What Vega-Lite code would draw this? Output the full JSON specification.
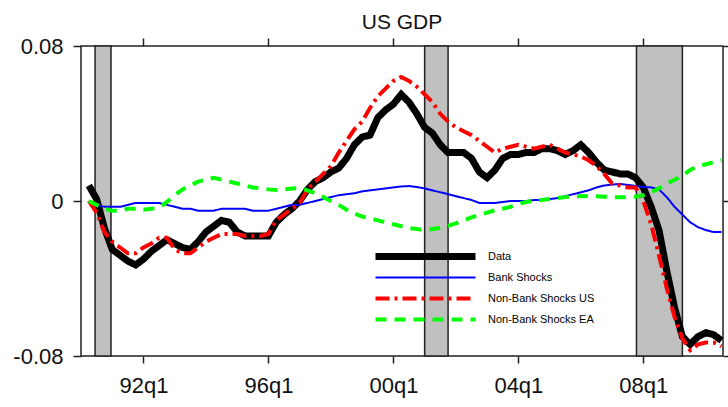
{
  "$schema": "https://vega.github.io/schema/vega-lite/v6.json",
  "width": 642,
  "height": 310,
  "autosize": "none",
  "padding": {"left": 81, "top": 46, "right": 5, "bottom": 51},
  "title": {"text": "US GDP", "font": "Liberation Sans", "fontSize": 21, "fontWeight": "normal", "color": "#111", "offset": 2},
  "config": {
    "view": {"stroke": "#222", "strokeWidth": 1.5},
    "axis": {"grid": false, "domain": false, "tickColor": "#222", "tickWidth": 1.5, "labelFont": "Liberation Sans", "labelFontSize": 22, "labelColor": "#111"}
  },
  "datasets": {
    "bands": [
      {"start": 1990.45, "end": 1990.96},
      {"start": 2001.0, "end": 2001.75},
      {"start": 2007.78, "end": 2009.25}
    ],
    "series": [
      {"t": 1990.25, "Data": 0.008, "Bank Shocks": 0.000, "Non-Bank Shocks US": 0.000, "Non-Bank Shocks EA": 0.000},
      {"t": 1990.5, "Data": 0.001, "Bank Shocks": -0.002, "Non-Bank Shocks US": -0.006, "Non-Bank Shocks EA": -0.002},
      {"t": 1990.75, "Data": -0.014, "Bank Shocks": -0.003, "Non-Bank Shocks US": -0.016, "Non-Bank Shocks EA": -0.004},
      {"t": 1991.0, "Data": -0.025, "Bank Shocks": -0.003, "Non-Bank Shocks US": -0.021, "Non-Bank Shocks EA": -0.005},
      {"t": 1991.25, "Data": -0.028, "Bank Shocks": -0.003, "Non-Bank Shocks US": -0.024, "Non-Bank Shocks EA": -0.005},
      {"t": 1991.5, "Data": -0.031, "Bank Shocks": -0.002, "Non-Bank Shocks US": -0.027, "Non-Bank Shocks EA": -0.004},
      {"t": 1991.75, "Data": -0.033, "Bank Shocks": -0.001, "Non-Bank Shocks US": -0.027, "Non-Bank Shocks EA": -0.004},
      {"t": 1992.0, "Data": -0.030, "Bank Shocks": -0.001, "Non-Bank Shocks US": -0.024, "Non-Bank Shocks EA": -0.0045},
      {"t": 1992.25, "Data": -0.026, "Bank Shocks": -0.001, "Non-Bank Shocks US": -0.022, "Non-Bank Shocks EA": -0.004},
      {"t": 1992.5, "Data": -0.023, "Bank Shocks": -0.001, "Non-Bank Shocks US": -0.019, "Non-Bank Shocks EA": -0.0035},
      {"t": 1992.75, "Data": -0.020, "Bank Shocks": -0.002, "Non-Bank Shocks US": -0.019, "Non-Bank Shocks EA": -0.0005},
      {"t": 1993.0, "Data": -0.022, "Bank Shocks": -0.003, "Non-Bank Shocks US": -0.025, "Non-Bank Shocks EA": 0.003},
      {"t": 1993.25, "Data": -0.024, "Bank Shocks": -0.004, "Non-Bank Shocks US": -0.027, "Non-Bank Shocks EA": 0.006},
      {"t": 1993.5, "Data": -0.025, "Bank Shocks": -0.004, "Non-Bank Shocks US": -0.027, "Non-Bank Shocks EA": 0.008},
      {"t": 1993.75, "Data": -0.021, "Bank Shocks": -0.005, "Non-Bank Shocks US": -0.024, "Non-Bank Shocks EA": 0.010},
      {"t": 1994.0, "Data": -0.016, "Bank Shocks": -0.005, "Non-Bank Shocks US": -0.021, "Non-Bank Shocks EA": 0.011},
      {"t": 1994.25, "Data": -0.013, "Bank Shocks": -0.005, "Non-Bank Shocks US": -0.019, "Non-Bank Shocks EA": 0.012},
      {"t": 1994.5, "Data": -0.010, "Bank Shocks": -0.004, "Non-Bank Shocks US": -0.017, "Non-Bank Shocks EA": 0.011},
      {"t": 1994.75, "Data": -0.011, "Bank Shocks": -0.004, "Non-Bank Shocks US": -0.017, "Non-Bank Shocks EA": 0.010},
      {"t": 1995.0, "Data": -0.016, "Bank Shocks": -0.004, "Non-Bank Shocks US": -0.017, "Non-Bank Shocks EA": 0.009},
      {"t": 1995.25, "Data": -0.018, "Bank Shocks": -0.004, "Non-Bank Shocks US": -0.018, "Non-Bank Shocks EA": 0.008},
      {"t": 1995.5, "Data": -0.018, "Bank Shocks": -0.005, "Non-Bank Shocks US": -0.018, "Non-Bank Shocks EA": 0.007},
      {"t": 1995.75, "Data": -0.018, "Bank Shocks": -0.005, "Non-Bank Shocks US": -0.018, "Non-Bank Shocks EA": 0.0065},
      {"t": 1996.0, "Data": -0.018, "Bank Shocks": -0.005, "Non-Bank Shocks US": -0.017, "Non-Bank Shocks EA": 0.006},
      {"t": 1996.25, "Data": -0.011, "Bank Shocks": -0.004, "Non-Bank Shocks US": -0.010, "Non-Bank Shocks EA": 0.0057},
      {"t": 1996.5, "Data": -0.007, "Bank Shocks": -0.003, "Non-Bank Shocks US": -0.007, "Non-Bank Shocks EA": 0.006},
      {"t": 1996.75, "Data": -0.004, "Bank Shocks": -0.002, "Non-Bank Shocks US": -0.004, "Non-Bank Shocks EA": 0.0065},
      {"t": 1997.0, "Data": 0.000, "Bank Shocks": -0.002, "Non-Bank Shocks US": -0.001, "Non-Bank Shocks EA": 0.0067},
      {"t": 1997.25, "Data": 0.006, "Bank Shocks": -0.001, "Non-Bank Shocks US": 0.006, "Non-Bank Shocks EA": 0.0055},
      {"t": 1997.5, "Data": 0.010, "Bank Shocks": 0.000, "Non-Bank Shocks US": 0.010, "Non-Bank Shocks EA": 0.004},
      {"t": 1997.75, "Data": 0.012, "Bank Shocks": 0.001, "Non-Bank Shocks US": 0.014, "Non-Bank Shocks EA": 0.002},
      {"t": 1998.0, "Data": 0.015, "Bank Shocks": 0.002, "Non-Bank Shocks US": 0.018, "Non-Bank Shocks EA": 0.000},
      {"t": 1998.25, "Data": 0.017, "Bank Shocks": 0.003, "Non-Bank Shocks US": 0.025, "Non-Bank Shocks EA": -0.002},
      {"t": 1998.5, "Data": 0.022, "Bank Shocks": 0.0035, "Non-Bank Shocks US": 0.031, "Non-Bank Shocks EA": -0.0045},
      {"t": 1998.75, "Data": 0.029, "Bank Shocks": 0.004, "Non-Bank Shocks US": 0.037, "Non-Bank Shocks EA": -0.0065},
      {"t": 1999.0, "Data": 0.033, "Bank Shocks": 0.005, "Non-Bank Shocks US": 0.041, "Non-Bank Shocks EA": -0.008},
      {"t": 1999.25, "Data": 0.034, "Bank Shocks": 0.0055, "Non-Bank Shocks US": 0.048, "Non-Bank Shocks EA": -0.009},
      {"t": 1999.5, "Data": 0.043, "Bank Shocks": 0.006, "Non-Bank Shocks US": 0.054, "Non-Bank Shocks EA": -0.010},
      {"t": 1999.75, "Data": 0.047, "Bank Shocks": 0.0065, "Non-Bank Shocks US": 0.058, "Non-Bank Shocks EA": -0.011},
      {"t": 2000.0, "Data": 0.050, "Bank Shocks": 0.007, "Non-Bank Shocks US": 0.062, "Non-Bank Shocks EA": -0.012},
      {"t": 2000.25, "Data": 0.055, "Bank Shocks": 0.0075, "Non-Bank Shocks US": 0.064, "Non-Bank Shocks EA": -0.013},
      {"t": 2000.5, "Data": 0.051, "Bank Shocks": 0.0077, "Non-Bank Shocks US": 0.062, "Non-Bank Shocks EA": -0.014},
      {"t": 2000.75, "Data": 0.045, "Bank Shocks": 0.0072, "Non-Bank Shocks US": 0.059, "Non-Bank Shocks EA": -0.0145},
      {"t": 2001.0, "Data": 0.038, "Bank Shocks": 0.0065, "Non-Bank Shocks US": 0.055, "Non-Bank Shocks EA": -0.015},
      {"t": 2001.25, "Data": 0.035, "Bank Shocks": 0.0055, "Non-Bank Shocks US": 0.051, "Non-Bank Shocks EA": -0.0145},
      {"t": 2001.5, "Data": 0.029, "Bank Shocks": 0.0045, "Non-Bank Shocks US": 0.045, "Non-Bank Shocks EA": -0.0138},
      {"t": 2001.75, "Data": 0.025, "Bank Shocks": 0.0035, "Non-Bank Shocks US": 0.041, "Non-Bank Shocks EA": -0.0128},
      {"t": 2002.0, "Data": 0.025, "Bank Shocks": 0.0025, "Non-Bank Shocks US": 0.038, "Non-Bank Shocks EA": -0.0115},
      {"t": 2002.25, "Data": 0.025, "Bank Shocks": 0.0015, "Non-Bank Shocks US": 0.036, "Non-Bank Shocks EA": -0.010},
      {"t": 2002.5, "Data": 0.022, "Bank Shocks": 0.0005, "Non-Bank Shocks US": 0.034, "Non-Bank Shocks EA": -0.0085},
      {"t": 2002.75, "Data": 0.015, "Bank Shocks": -0.001, "Non-Bank Shocks US": 0.031, "Non-Bank Shocks EA": -0.0072},
      {"t": 2003.0, "Data": 0.012, "Bank Shocks": -0.001, "Non-Bank Shocks US": 0.028, "Non-Bank Shocks EA": -0.006},
      {"t": 2003.25, "Data": 0.016, "Bank Shocks": -0.001, "Non-Bank Shocks US": 0.025, "Non-Bank Shocks EA": -0.0048},
      {"t": 2003.5, "Data": 0.022, "Bank Shocks": -0.0005, "Non-Bank Shocks US": 0.027, "Non-Bank Shocks EA": -0.004},
      {"t": 2003.75, "Data": 0.024, "Bank Shocks": 0.000, "Non-Bank Shocks US": 0.028, "Non-Bank Shocks EA": -0.003},
      {"t": 2004.0, "Data": 0.024, "Bank Shocks": 0.000, "Non-Bank Shocks US": 0.029, "Non-Bank Shocks EA": -0.0015},
      {"t": 2004.25, "Data": 0.025, "Bank Shocks": 0.000, "Non-Bank Shocks US": 0.028, "Non-Bank Shocks EA": -0.0005},
      {"t": 2004.5, "Data": 0.025, "Bank Shocks": 0.0005, "Non-Bank Shocks US": 0.027, "Non-Bank Shocks EA": 0.000},
      {"t": 2004.75, "Data": 0.027, "Bank Shocks": 0.0005, "Non-Bank Shocks US": 0.028, "Non-Bank Shocks EA": 0.0005},
      {"t": 2005.0, "Data": 0.027, "Bank Shocks": 0.001, "Non-Bank Shocks US": 0.029, "Non-Bank Shocks EA": 0.001},
      {"t": 2005.25, "Data": 0.026, "Bank Shocks": 0.0015, "Non-Bank Shocks US": 0.027, "Non-Bank Shocks EA": 0.0015},
      {"t": 2005.5, "Data": 0.024, "Bank Shocks": 0.0025, "Non-Bank Shocks US": 0.025, "Non-Bank Shocks EA": 0.002},
      {"t": 2005.75, "Data": 0.026, "Bank Shocks": 0.0035, "Non-Bank Shocks US": 0.024, "Non-Bank Shocks EA": 0.0023},
      {"t": 2006.0, "Data": 0.029, "Bank Shocks": 0.0045, "Non-Bank Shocks US": 0.023, "Non-Bank Shocks EA": 0.0025},
      {"t": 2006.25, "Data": 0.025, "Bank Shocks": 0.0055, "Non-Bank Shocks US": 0.021, "Non-Bank Shocks EA": 0.0026},
      {"t": 2006.5, "Data": 0.020, "Bank Shocks": 0.007, "Non-Bank Shocks US": 0.018, "Non-Bank Shocks EA": 0.0025},
      {"t": 2006.75, "Data": 0.016, "Bank Shocks": 0.008, "Non-Bank Shocks US": 0.014, "Non-Bank Shocks EA": 0.0022},
      {"t": 2007.0, "Data": 0.015, "Bank Shocks": 0.0085, "Non-Bank Shocks US": 0.009, "Non-Bank Shocks EA": 0.002},
      {"t": 2007.25, "Data": 0.014, "Bank Shocks": 0.0088, "Non-Bank Shocks US": 0.008, "Non-Bank Shocks EA": 0.002},
      {"t": 2007.5, "Data": 0.014, "Bank Shocks": 0.0083, "Non-Bank Shocks US": 0.007, "Non-Bank Shocks EA": 0.002},
      {"t": 2007.75, "Data": 0.012, "Bank Shocks": 0.0078, "Non-Bank Shocks US": 0.007, "Non-Bank Shocks EA": 0.0022},
      {"t": 2008.0, "Data": 0.007, "Bank Shocks": 0.0072, "Non-Bank Shocks US": 0.000, "Non-Bank Shocks EA": 0.003},
      {"t": 2008.25, "Data": -0.003, "Bank Shocks": 0.007, "Non-Bank Shocks US": -0.012, "Non-Bank Shocks EA": 0.0045},
      {"t": 2008.5, "Data": -0.015, "Bank Shocks": 0.006, "Non-Bank Shocks US": -0.028, "Non-Bank Shocks EA": 0.0065},
      {"t": 2008.75, "Data": -0.036, "Bank Shocks": 0.002, "Non-Bank Shocks US": -0.045, "Non-Bank Shocks EA": 0.009},
      {"t": 2009.0, "Data": -0.055, "Bank Shocks": -0.003, "Non-Bank Shocks US": -0.060, "Non-Bank Shocks EA": 0.011},
      {"t": 2009.25, "Data": -0.070, "Bank Shocks": -0.007, "Non-Bank Shocks US": -0.071, "Non-Bank Shocks EA": 0.013},
      {"t": 2009.5, "Data": -0.074, "Bank Shocks": -0.011, "Non-Bank Shocks US": -0.077, "Non-Bank Shocks EA": 0.016},
      {"t": 2009.75, "Data": -0.070, "Bank Shocks": -0.0135, "Non-Bank Shocks US": -0.074, "Non-Bank Shocks EA": 0.018},
      {"t": 2010.0, "Data": -0.068, "Bank Shocks": -0.015, "Non-Bank Shocks US": -0.073, "Non-Bank Shocks EA": 0.019},
      {"t": 2010.25, "Data": -0.069, "Bank Shocks": -0.016, "Non-Bank Shocks US": -0.073, "Non-Bank Shocks EA": 0.020},
      {"t": 2010.5, "Data": -0.072, "Bank Shocks": -0.016, "Non-Bank Shocks US": -0.075, "Non-Bank Shocks EA": 0.021}
    ]
  },
  "resolve": {"axis": {"x": "independent", "y": "independent"}},
  "layer": [
    {
      "data": {"name": "bands"},
      "mark": {"type": "rect", "fill": "#c0c0c0", "stroke": "#222", "strokeWidth": 1.5},
      "encoding": {
        "x": {"field": "start", "type": "quantitative", "scale": {"domain": [1990, 2010.55], "nice": false, "zero": false},
              "axis": {"orient": "bottom", "values": [1992, 1996, 2000, 2004, 2008], "tickSize": 7, "labelPadding": 12, "title": null,
                       "labelExpr": "substring(toString(datum.value), 2, 4) + 'q1'"}},
        "x2": {"field": "end"},
        "y": {"datum": 0.08, "type": "quantitative", "scale": {"domain": [-0.08, 0.08], "nice": false, "zero": false},
              "axis": {"orient": "right", "values": [-0.08, 0, 0.08], "tickSize": 5, "labels": false, "title": null}},
        "y2": {"datum": -0.08}
      }
    },
    {
      "data": {"name": "series"},
      "transform": [{"fold": ["Data", "Bank Shocks", "Non-Bank Shocks US", "Non-Bank Shocks EA"], "as": ["series", "value"]}],
      "mark": {"type": "line", "clip": true, "strokeCap": "butt"},
      "encoding": {
        "x": {"field": "t", "type": "quantitative",
              "axis": {"orient": "top", "values": [1992, 1996, 2000, 2004, 2008], "tickSize": 8, "labels": false, "title": null}},
        "y": {"field": "value", "type": "quantitative",
              "axis": {"orient": "left", "values": [-0.08, 0, 0.08], "tickSize": 8, "labelPadding": 10, "title": null, "format": "~g",
                       "labelExpr": "replace(datum.label, '−', '-')"}},
        "color": {"field": "series", "type": "nominal",
                  "scale": {"domain": ["Data", "Bank Shocks", "Non-Bank Shocks US", "Non-Bank Shocks EA"], "range": ["#000000", "#0000ff", "#ff0000", "#00ff00"]},
                  "legend": {"orient": "none", "legendX": 291, "legendY": 200, "title": null, "symbolType": "stroke", "symbolSize": 10000,
                             "labelFont": "Liberation Sans", "labelFontSize": 11, "labelColor": "#000", "rowPadding": 0, "clipHeight": 21, "labelOffset": 9, "padding": 0}},
        "strokeDash": {"field": "series", "type": "nominal",
                       "scale": {"domain": ["Data", "Bank Shocks", "Non-Bank Shocks US", "Non-Bank Shocks EA"], "range": [[1, 0], [1, 0], [14, 5, 3, 5], [11, 8]]}},
        "strokeWidth": {"field": "series", "type": "nominal",
                        "scale": {"type": "ordinal", "domain": ["Data", "Bank Shocks", "Non-Bank Shocks US", "Non-Bank Shocks EA"], "range": [7, 2, 4, 4]}}
      }
    }
  ]
}
